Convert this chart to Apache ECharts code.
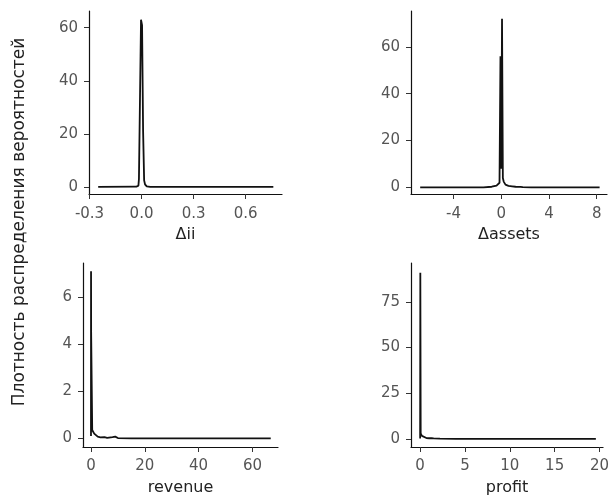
<!DOCTYPE html>
<html>
<head>
<meta charset="utf-8">
<script src="https://cdn.jsdelivr.net/npm/echarts@6/dist/echarts.min.js"></script>
<style>
  html, body { margin: 0; padding: 0; background: #fff; }
  #main { width: 612px; height: 497px; }
</style>
</head>
<body>
<div id="main"></div>
<script>
// density curves
var iiDensity = [
    [-0.25, 0], [-0.03, 0.1], [-0.018, 0.5], [-0.015, 3], [-0.011, 3.5], [-0.009, 33],
    [-0.004, 33], [-0.003, 63], [0.002, 63], [0.003, 61], [0.008, 61], [0.009, 21],
    [0.013, 21], [0.015, 2.5], [0.02, 1], [0.03, 0.2], [0.05, 0], [0.76, 0]
];
var assetsDensity = [
    [-6.8, 0], [-1.5, 0.05], [-0.8, 0.3], [-0.4, 0.8], [-0.15, 2], [-0.07, 56],
    [-0.02, 56], [0.0, 8], [0.06, 72], [0.1, 72], [0.13, 4], [0.2, 2.5], [0.35, 1.2],
    [0.6, 0.7], [0.9, 0.5], [1.2, 0.3], [1.6, 0.2], [1.7, 0.6], [1.8, 0.1], [2.5, 0], [8.24, 0]
];
var revenueDensity = [
    [0, 0.1], [0.02, 7.1], [0.05, 4.55], [0.4, 4.5], [0.45, 0.35], [0.8, 0.3],
    [1.2, 0.2], [1.8, 0.12], [2.5, 0.07], [3.5, 0.04], [5, 0.05], [6, 0.02],
    [8, 0.05], [9, 0.07], [10, 0.01], [15, 0], [66.8, 0]
];
var profitDensity = [
    [0, 0.1], [0.02, 91], [0.06, 3], [0.2, 1.6], [0.4, 0.8], [0.7, 0.4], [1.0, 0.3],
    [1.25, 0.4], [1.35, 0.9], [1.5, 0.2], [2.2, 0.05], [4, 0], [19.6, 0]
];

var iiTicksX = [-0.3, 0, 0.3, 0.6];
var iiTicksY = [0, 20, 40, 60];
var assetsTicksX = [-4, 0, 4, 8];
var assetsTicksY = [0, 20, 40, 60];
var revenueTicksX = [0, 20, 40, 60];
var revenueTicksY = [0, 2, 4, 6];
var profitTicksX = [0, 5, 10, 15, 20];
var profitTicksY = [0, 25, 50, 75];

var xNames = ['\u0394ii', '\u0394assets', 'revenue', 'profit'];
var yTitle = 'Плотность распределения вероятностей';

var myChart = echarts.init(document.getElementById('main'), null, { renderer: 'canvas' });

var FONT = '"DejaVu Sans", Verdana, sans-serif';

// panel layout (px) and axis ranges
var panels = [
    { data: iiDensity, tx: iiTicksX, ty: iiTicksY, grid: { left: 89, top: 11, width: 193, height: 183 },
      xmin: -0.303, xmax: 0.81, ymin: -2.65, ymax: 66.3, lm: 13, fmt: function (v) { return v.toFixed(1); } },
    { data: assetsDensity, tx: assetsTicksX, ty: assetsTicksY, grid: { left: 411, top: 11, width: 196, height: 183 },
      xmin: -7.57, xmax: 8.86, ymin: -2.8, ymax: 75.3, lm: 13 },
    { data: revenueDensity, tx: revenueTicksX, ty: revenueTicksY, grid: { left: 83, top: 263, width: 195, height: 185 },
      xmin: -2.97, xmax: 69.5, ymin: -0.37, ymax: 7.45, lm: 12 },
    { data: profitDensity, tx: profitTicksX, ty: profitTicksY, grid: { left: 411, top: 263, width: 196, height: 184 },
      xmin: -1.02, xmax: 20.4, ymin: -4.5, ymax: 96.3, lm: 12 }
];

var option = {
    backgroundColor: '#fff',
    animation: false,
    grid: [], xAxis: [], yAxis: [], series: [],
    graphic: [{
        type: 'text',
        x: 20, y: 222,
        rotation: Math.PI / 2,
        style: {
            text: yTitle,
            fill: '#222',
            font: '17px ' + FONT,
            align: 'center',
            verticalAlign: 'middle'
        }
    }]
};

panels.forEach(function (p, i) {
    option.grid.push(Object.assign({ containLabel: false }, p.grid));
    option.xAxis.push({
        type: 'value', gridIndex: i, min: p.xmin, max: p.xmax,
        name: xNames[i], nameLocation: 'middle', nameGap: 33,
        nameTextStyle: { fontFamily: FONT, fontSize: 16, color: '#222' },
        axisLine: { show: true, onZero: false, lineStyle: { color: '#111', width: 1.2 } },
        axisTick: { show: true, length: 5, customValues: p.tx, lineStyle: { color: '#333' } },
        axisLabel: { customValues: p.tx, margin: p.lm, fontFamily: FONT, fontSize: 15, color: '#555',
            formatter: p.fmt || function (v) { return String(v); } },
        splitLine: { show: false }
    });
    option.yAxis.push({
        type: 'value', gridIndex: i, min: p.ymin, max: p.ymax,
        axisLine: { show: true, onZero: false, lineStyle: { color: '#111', width: 1.2 } },
        axisTick: { show: true, length: 5, customValues: p.ty, lineStyle: { color: '#333' } },
        axisLabel: { customValues: p.ty, margin: 11, fontFamily: FONT, fontSize: 15, color: '#555' },
        splitLine: { show: false }
    });
    option.series.push({
        type: 'line', xAxisIndex: i, yAxisIndex: i,
        data: p.data, showSymbol: false, smooth: false,
        lineStyle: { color: '#111', width: 1.8 },
        silent: true
    });
});

myChart.setOption(option);
window.addEventListener('resize', function () { myChart.resize(); });
</script>
</body>
</html>
